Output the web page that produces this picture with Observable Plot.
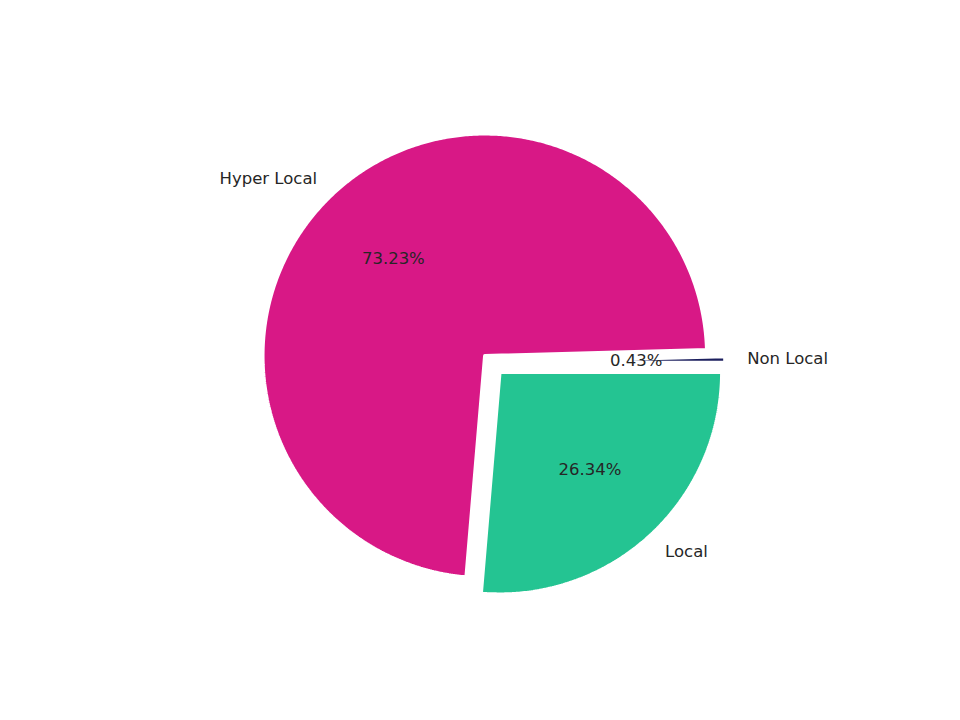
<!DOCTYPE html>
<html>
<head>
<meta charset="utf-8">
<script src="https://cdn.jsdelivr.net/npm/d3@7"></script>
<script src="https://cdn.jsdelivr.net/npm/@observablehq/plot@0.6"></script>
<style>
  html, body { margin: 0; padding: 0; background: #fff; }
  #chart { width: 960px; height: 720px; }
</style>
</head>
<body>
<div id="chart"></div>
<script>
const categories = ["Hyper Local", "Local", "Non Local"];
const values = [73.23, 26.34, 0.43];
const explode = [0, 0.1, 0.087];
const explodeAngle = [null, null, -20];
const colors = ["#d81886", "#24c492", "#1c1f5e"];
const startAngle = 1.55;

const total = d3.sum(values);
const labelDistance = 1.1;
const pctDistance = 0.6;

const wedgePoints = [];
const labels = [];
const pcts = [];
let start = startAngle;
categories.forEach((cat, i) => {
  const sweep = values[i] / total * 360;
  const end = start + sweep;
  const mid = (start + end) / 2 * Math.PI / 180;
  const ea = explodeAngle[i] == null ? mid : explodeAngle[i] * Math.PI / 180;
  const cx = explode[i] * Math.cos(ea);
  const cy = explode[i] * Math.sin(ea);
  wedgePoints.push({cat, x: cx, y: cy});
  const n = Math.max(4, Math.ceil(sweep / 0.5));
  for (let k = 0; k <= n; k++) {
    const a = (start + sweep * k / n) * Math.PI / 180;
    wedgePoints.push({cat, x: cx + Math.cos(a), y: cy + Math.sin(a)});
  }
  wedgePoints.push({cat, x: cx, y: cy});
  const lx = cx + labelDistance * Math.cos(mid);
  const ly = cy + labelDistance * Math.sin(mid);
  labels.push({cat, x: lx, y: ly, anchor: lx > 0 ? "start" : "end"});
  pcts.push({cat, x: cx + pctDistance * Math.cos(mid), y: cy + pctDistance * Math.sin(mid),
             text: (values[i] / total * 100).toFixed(2) + "%"});
  start = end;
});

const W = 960, H = 720, R = 222, CX = 484.3, CY = 355.3;

const chart = Plot.plot({
  width: W,
  height: H,
  margin: 0,
  x: {domain: [-CX / R, (W - CX) / R], axis: null},
  y: {domain: [-(H - CY) / R, CY / R], axis: null},
  color: {domain: categories, range: colors},
  style: {fontFamily: "DejaVu Sans, sans-serif", background: "#fff"},
  marks: [
    Plot.line(wedgePoints, {x: "x", y: "y", z: "cat", fill: "cat", stroke: "white", strokeWidth: 3.5, strokeLinejoin: "miter", curve: "linear"}),
    Plot.text(labels.filter(d => d.anchor === "start"), {x: "x", y: "y", text: "cat", textAnchor: "start", fontSize: 16.5, fill: "#262626"}),
    Plot.text(labels.filter(d => d.anchor === "end"), {x: "x", y: "y", text: "cat", textAnchor: "end", fontSize: 16.5, fill: "#262626"}),
    Plot.text(pcts, {x: "x", y: "y", text: "text", fontSize: 16.5, fill: "#262626"})
  ]
});
document.getElementById("chart").appendChild(chart);
</script>
</body>
</html>
